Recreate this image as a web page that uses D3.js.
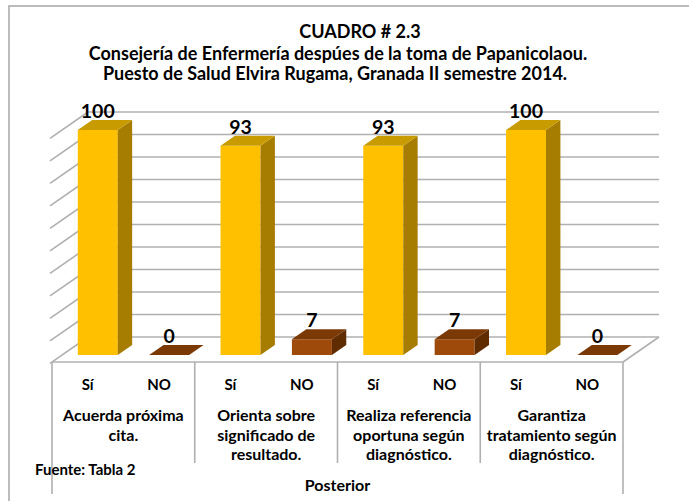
<!DOCTYPE html>
<html>
<head>
<meta charset="utf-8">
<script src="https://cdn.jsdelivr.net/npm/d3@7"></script>
<style>
  body { margin: 0; background: #fff; }
  text { font-family: Lato, "Open Sans", sans-serif; font-weight: bold; fill: #000; }
</style>
</head>
<body>
<div id="chart"></div>
<script>
const titleLines = ["CUADRO # 2.3", "Consejería de Enfermería despúes de la toma de Papanicolaou.", "Puesto de Salud Elvira Rugama, Granada II semestre 2014."];
const categories = [
  ["Acuerda próxima", "cita."],
  ["Orienta sobre", "significado de", "resultado."],
  ["Realiza referencia", "oportuna según", "diagnóstico."],
  ["Garantiza", "tratamiento según", "diagnóstico."]
];
const seriesNames = ["Sí", "NO"];
const siValues = [100, 93, 93, 100];
const noValues = [0, 7, 7, 0];
const axisTitle = "Posterior";
const sourceText = "Fuente: Tabla 2";

const colors = {
  "Sí": { front: "#ffc000", top: "#c89c00", side: "#a67d00" },
  "NO": { front: "#9e4a0a", top: "#7b3906", side: "#5f2c02" }
};

class Bar3D {
  constructor(id){
    this.width = 689;
    this.height = 501;
    this.depth = { x: 36, y: -25 };
    this.barFront = 0.28;
    this.barBack = 0.68;
    this.rows = categories.flatMap((c, i) => [
      { cat: i, series: "Sí", value: siValues[i] },
      { cat: i, series: "NO", value: noValues[i] }
    ]);

    this.svg = d3.select(id).append("svg")
      .attr("width", this.width)
      .attr("height", this.height);

    this.setScales();
    this.drawFrame();
    this.drawGrid();
    this.drawBars();
    this.drawAxis();
  }

  setScales(){
    this.xCat = d3.scaleBand().domain(d3.range(categories.length)).range([52, 623]);
    this.xSub = d3.scaleBand().domain(seriesNames).range([0, this.xCat.bandwidth()])
      .paddingInner(0.44).paddingOuter(0.22);
    this.y = d3.scaleLinear().domain([0, 100]).range([362, 137]);
  }

  off(f){
    return [this.depth.x * f, this.depth.y * f];
  }

  drawFrame(){
    this.svg.append("rect")
      .attr("x", 9).attr("y", 6)
      .attr("width", 720).attr("height", 540)
      .attr("fill", "none").attr("stroke", "#a6a6a6").attr("stroke-width", 1.5);

    const centers = [360, 338, 335];
    const baselines = [38, 60, 80];
    this.svg.append("g").selectAll("text")
      .data(titleLines).join("text")
      .attr("x", (d, i) => centers[i])
      .attr("y", (d, i) => baselines[i])
      .attr("text-anchor", "middle")
      .style("font-size", "18px")
      .text(d => d);
  }

  drawGrid(){
    const [dx, dy] = this.off(1);
    const [x0, x1] = this.xCat.range();
    const g = this.svg.append("g").attr("stroke", "#b0b0b0").attr("stroke-width", 1.6);
    const ticks = this.y.ticks(10);

    g.selectAll("line.back").data(ticks).join("line")
      .attr("class", "back")
      .attr("x1", x0 + dx).attr("x2", x1 + dx)
      .attr("y1", d => this.y(d) + dy).attr("y2", d => this.y(d) + dy);

    g.selectAll("line.wall").data(ticks).join("line")
      .attr("class", "wall")
      .attr("x1", x0 - 2).attr("x2", x0 + dx)
      .attr("y1", d => this.y(d) + 1.4).attr("y2", d => this.y(d) + dy);

    g.append("line")
      .attr("x1", x1).attr("y1", this.y(0))
      .attr("x2", x1 + dx).attr("y2", this.y(0) + dy);
  }

  drawBars(){
    const [fx, fy] = this.off(this.barFront);
    const [bx, by] = this.off(this.barBack);
    const w = this.xSub.bandwidth();
    const base = this.y(0);

    this.svg.append("g").selectAll("g")
      .data(this.rows).join("g")
      .each((d, i, nodes) => {
        const g = d3.select(nodes[i]);
        const xl = this.xCat(d.cat) + this.xSub(d.series);
        const top = this.y(d.value);
        const c = colors[d.series];

        g.append("rect")
          .attr("x", xl + fx).attr("y", top + fy)
          .attr("width", w).attr("height", base - top)
          .attr("fill", c.front);

        g.append("path")
          .attr("d", d3.line()([[xl + fx + w, top + fy], [xl + bx + w, top + by], [xl + bx + w, base + by], [xl + fx + w, base + fy]]) + "Z")
          .attr("fill", c.side);

        g.append("path")
          .attr("d", d3.line()([[xl + fx, top + fy], [xl + fx + w, top + fy], [xl + bx + w, top + by], [xl + bx, top + by]]) + "Z")
          .attr("fill", c.top);

        g.append("text")
          .attr("x", xl + fx + w / 2)
          .attr("y", top + by - 2)
          .attr("text-anchor", "middle")
          .style("font-size", "19.5px")
          .text(d.value);
      });
  }

  drawAxis(){
    const [x0, x1] = this.xCat.range();
    const top = this.y(0);
    const g = this.svg.append("g");
    const bw = this.xCat.bandwidth();

    const lines = g.append("g").attr("stroke", "#b0b0b0").attr("stroke-width", 1.6);
    lines.append("line").attr("x1", x0).attr("x2", x1).attr("y1", top).attr("y2", top);
    lines.selectAll("line.sep").data(d3.range(categories.length + 1)).join("line")
      .attr("class", "sep")
      .attr("x1", d => x0 + d * bw).attr("x2", d => x0 + d * bw)
      .attr("y1", top)
      .attr("y2", d => (d === 0 || d === categories.length) ? 494 : 463);

    g.selectAll("text.sub").data(this.rows).join("text")
      .attr("class", "sub")
      .attr("x", d => this.xCat(d.cat) + this.xSub(d.series) + this.xSub.bandwidth() / 2)
      .attr("y", 390)
      .attr("text-anchor", "middle")
      .style("font-size", "15px")
      .text(d => d.series);

    categories.forEach((lbl, i) => {
      g.append("text")
        .attr("text-anchor", "middle")
        .style("font-size", "16px")
        .selectAll("tspan").data(lbl).join("tspan")
        .attr("x", this.xCat(i) + bw / 2)
        .attr("y", (d, j) => 421 + j * 19.5)
        .text(d => d);
    });

    g.append("text")
      .attr("x", (x0 + x1) / 2).attr("y", 491)
      .attr("text-anchor", "middle")
      .style("font-size", "16px")
      .text(axisTitle);

    g.append("text")
      .attr("x", 35).attr("y", 475)
      .style("font-size", "15px")
      .text(sourceText);
  }
}

new Bar3D("#chart");
</script>
</body>
</html>
